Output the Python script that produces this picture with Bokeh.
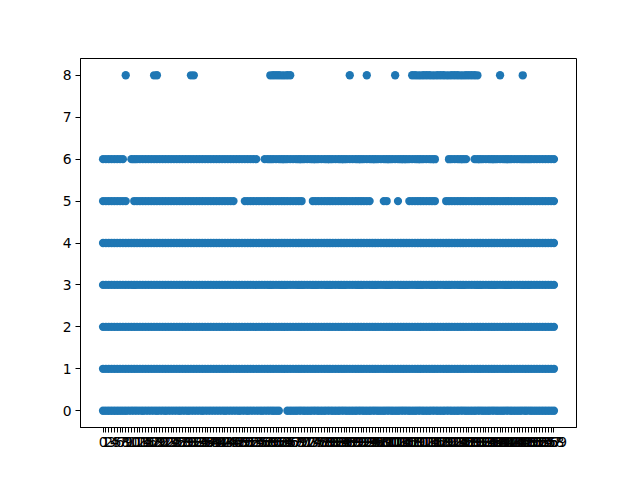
from bokeh.plotting import figure
from bokeh.models import Range1d, FixedTicker
from bokeh.embed import file_html
from bokeh.resources import INLINE

# Categories on the x axis (string labels, one per tick)
categories = [str(i) for i in range(160)]
y_levels = [0, 1, 2, 3, 4, 5, 6, 7, 8]

# For each y value, the runs of category positions (start, end inclusive) where a point is present
row0_runs = [(0, 62), (65, 159)]
row1_runs = [(0, 159)]
row2_runs = [(0, 159)]
row3_runs = [(0, 159)]
row4_runs = [(0, 159)]
row5_runs = [(0, 8), (11, 46), (50, 70), (74, 94), (99, 100), (104, 104), (108, 117), (121, 159)]
row6_runs = [(0, 7), (10, 54), (57, 117), (122, 128), (131, 159)]
row7_runs = []
row8_runs = [(8, 8), (18, 19), (31, 32), (59, 66), (87, 87), (93, 93), (103, 103),
             (109, 132), (140, 140), (148, 148)]

rows = {0: row0_runs, 1: row1_runs, 2: row2_runs, 3: row3_runs, 4: row4_runs,
        5: row5_runs, 6: row6_runs, 7: row7_runs, 8: row8_runs}

xs, ys = [], []
for yv, runs in rows.items():
    for a, b in runs:
        for i in range(a, b + 1):
            xs.append(i)
            ys.append(yv)

n = len(categories)
span = n - 1
p = figure(width=640, height=480, output_backend="svg", toolbar_location=None,
           x_range=Range1d(-0.05 * span, span * 1.05),
           y_range=Range1d(-0.4, 8.4),
           min_border_left=80, min_border_right=64, min_border_top=58, min_border_bottom=53)

p.scatter(xs, ys, size=8.3, fill_color="#1f77b4", line_color="#1f77b4", line_width=0)

p.xgrid.visible = False
p.ygrid.visible = False
p.outline_line_color = "black"
p.outline_line_width = 1
p.background_fill_color = "white"
p.border_fill_color = "white"

p.xaxis.ticker = FixedTicker(ticks=list(range(n)))
p.xaxis.major_label_overrides = {i: c for i, c in enumerate(categories)}
p.yaxis.ticker = FixedTicker(ticks=y_levels)

for ax in (p.xaxis[0], p.yaxis[0]):
    ax.axis_line_color = "black"
    ax.axis_line_width = 1
    ax.major_tick_out = 5
    ax.major_tick_in = 0
    ax.minor_tick_out = 0
    ax.minor_tick_in = 0
    ax.major_tick_line_color = "black"
    ax.major_tick_line_width = 1
    ax.major_label_text_font = "DejaVu Sans"
    ax.major_label_text_font_size = "13.9px"
    ax.major_label_text_color = "black"
    ax.major_label_standoff = 4

open("out.html", "w").write(file_html(p, INLINE))
